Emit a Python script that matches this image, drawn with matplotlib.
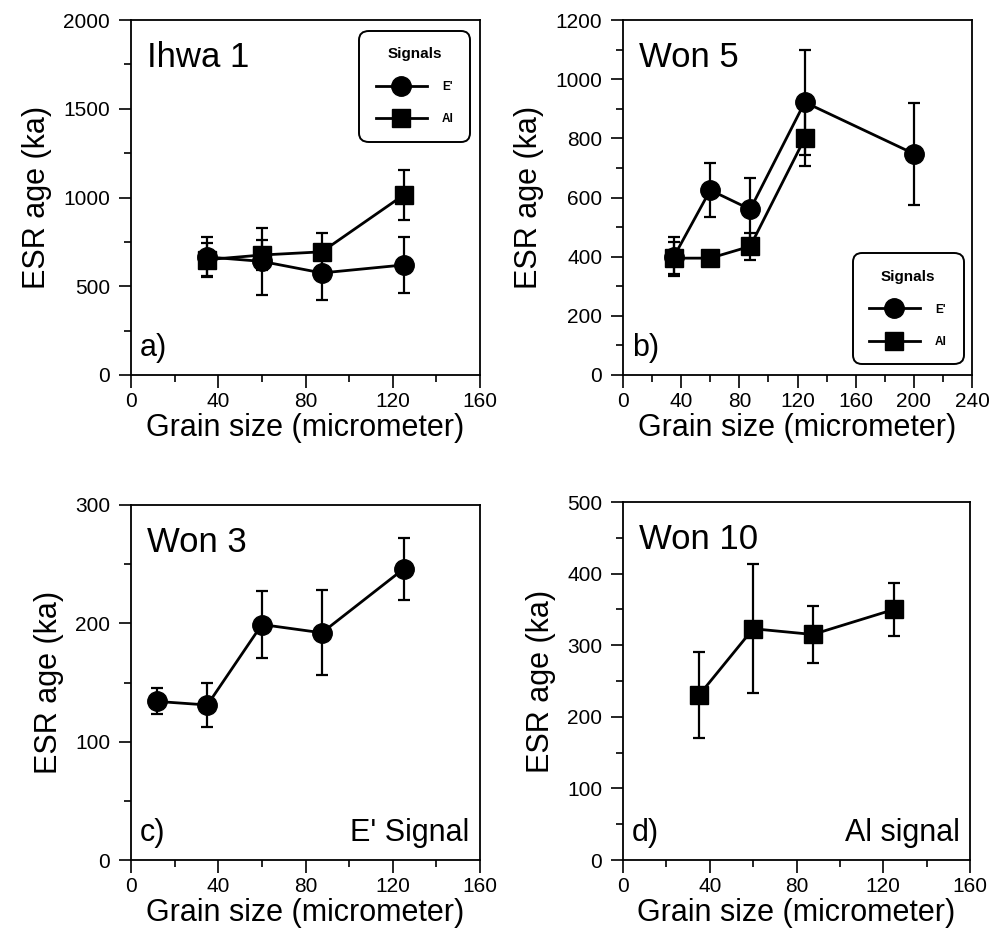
import numpy as np
import matplotlib.pyplot as plt
from matplotlib.ticker import MultipleLocator

plt.rcParams['font.family'] = ['Liberation Sans', 'DejaVu Sans']

# Ihwa 1
a_x = [35, 60, 87.5, 125]
a_e = [665, 640, 575, 620]
a_e_err = [115, 190, 150, 158]
a_al = [650, 676, 694, 1014]
a_al_err = [95, 85, 105, 140]

# Won 5
b_x_e = [35, 60, 87.5, 125, 200]
b_e = [400, 625, 560, 922, 748]
b_e_err = [65, 92, 105, 178, 172]
b_x_al = [35, 60, 87.5, 125]
b_al = [395, 395, 435, 800]
b_al_err = [55, 25, 45, 95]

# Won 3 (E' signal)
c_x = [12, 35, 60, 87.5, 125]
c_e = [134, 131, 199, 192, 246]
c_e_err = [11, 19, 28, 36, 26]

# Won 10 (Al signal)
d_x = [35, 60, 87.5, 125]
d_al = [230, 323, 315, 350]
d_al_err = [60, 90, 40, 37]

fig = plt.figure(figsize=(9.96, 9.44), dpi=100)
W, H = 996, 944


def make_ax(l, r, t, b):
    return fig.add_axes([l / W, 1 - b / H, (r - l) / W, (b - t) / H])


ax_a = make_ax(131, 480, 20, 375)
ax_b = make_ax(623, 972, 20, 375)
ax_c = make_ax(131, 480, 505, 860)
ax_d = make_ax(623, 970, 502, 860)

style = dict(color='black', lw=2.0, capsize=4.5, elinewidth=1.6, capthick=1.6)
circ = dict(marker='o', ms=14)
sq = dict(marker='s', ms=13)


def setup(ax, xmax, xmaj, ymax, ymaj, name, corner, note=None):
    ax.set_xlim(0, xmax)
    ax.set_ylim(0, ymax)
    ax.xaxis.set_major_locator(MultipleLocator(xmaj))
    ax.xaxis.set_minor_locator(MultipleLocator(xmaj / 2))
    ax.yaxis.set_major_locator(MultipleLocator(ymaj))
    ax.yaxis.set_minor_locator(MultipleLocator(ymaj / 2))
    ax.tick_params(which='major', direction='out', length=9, width=1.2, labelsize=15)
    ax.tick_params(which='minor', direction='out', length=5, width=1.2)
    ax.tick_params(axis='y', which='major', pad=6)
    ax.tick_params(axis='x', which='major', pad=3)
    for s in ax.spines.values():
        s.set_linewidth(1.3)
    ax.set_xlabel('Grain size (micrometer)', fontsize=22, labelpad=2)
    ax.set_ylabel('ESR age (ka)', fontsize=22, labelpad=8)
    ax.text(0.045, 0.895, name, transform=ax.transAxes, fontsize=25, va='center')
    ax.text(0.025, 0.075, corner, transform=ax.transAxes, fontsize=22, va='center')
    if note:
        ax.text(0.97, 0.075, note, transform=ax.transAxes, fontsize=22,
                va='center', ha='right')


def add_legend(ax, h, loc, anchor):
    leg = ax.legend(handles=h, labels=["E'", 'Al'], title='Signals', loc=loc,
                    bbox_to_anchor=anchor, borderaxespad=0, fancybox=True,
                    framealpha=1, edgecolor='black', prop={'size': 8.5, 'weight': 'bold'},
                    title_fontproperties={'size': 11, 'weight': 'bold'},
                    handlelength=4.3, labelspacing=1.7, borderpad=1.2,
                    handletextpad=1.3)
    leg.get_frame().set_linewidth(1.4)
    leg.get_frame().set_boxstyle('round,pad=0.2,rounding_size=0.8')


# a)
al = ax_a.errorbar(a_x, a_al, yerr=a_al_err, **sq, **style)
e = ax_a.errorbar(a_x, a_e, yerr=a_e_err, **circ, **style)
setup(ax_a, 160, 40, 2000, 500, 'Ihwa 1', 'a)')
add_legend(ax_a, [e[0], al[0]], 'upper right', (0.966, 0.963))

# b)
al = ax_b.errorbar(b_x_al, b_al, yerr=b_al_err, **sq, **style)
e = ax_b.errorbar(b_x_e, b_e, yerr=b_e_err, **circ, **style)
setup(ax_b, 240, 40, 1200, 200, 'Won 5', 'b)')
add_legend(ax_b, [e[0], al[0]], 'lower right', (0.969, 0.037))

# c)
ax_c.errorbar(c_x, c_e, yerr=c_e_err, **circ, **style)
setup(ax_c, 160, 40, 300, 100, 'Won 3', 'c)', "E' Signal")

# d)
ax_d.errorbar(d_x, d_al, yerr=d_al_err, **sq, **style)
setup(ax_d, 160, 40, 500, 100, 'Won 10', 'd)', 'Al signal')

fig.savefig('out.png', dpi=100)
